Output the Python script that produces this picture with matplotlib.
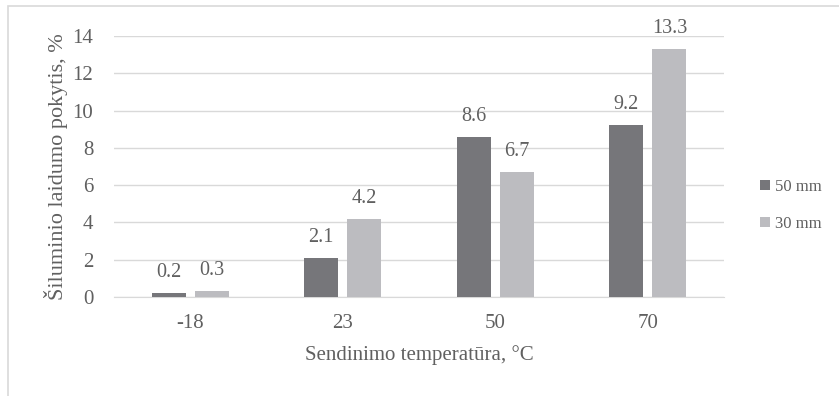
import matplotlib.pyplot as plt
import numpy as np
from matplotlib.patches import Rectangle

categories = ["-18", "23", "50", "70"]
series_names = ["50 mm", "30 mm"]
vals_50mm = [0.2, 2.1, 8.6, 9.2]
vals_30mm = [0.3, 4.2, 6.7, 13.3]
y_ticks = [0, 2, 4, 6, 8, 10, 12, 14]

plt.rcParams["font.family"] = ["Liberation Serif", "DejaVu Serif"]
txt = "#606060"
grid_c = "#d9d9d9"
colors = ["#76767a", "#bcbcc0"]

fig = plt.figure(figsize=(8.39, 3.96), dpi=100)
ax = fig.add_axes([114 / 839, 1 - 297 / 396, 610 / 839, 261 / 396])

# outer chart frame (right/bottom edge cut off in the reference)
fig.patches.append(Rectangle((8 / 839, -0.1), 1.2, 1 - 6 / 396 + 0.1,
                             transform=fig.transFigure, fill=False,
                             edgecolor=grid_c, linewidth=1.2))

x = np.arange(len(categories))
w = 0.223
off = 0.142
for i, (name, vals) in enumerate(zip(series_names, [vals_50mm, vals_30mm])):
    pos = x + (-off if i == 0 else off)
    bars = ax.bar(pos, vals, width=w, color=colors[i], label=name, zorder=3)
    for b, v in zip(bars, vals):
        ax.annotate(f"{v:.1f}", (b.get_x() + b.get_width() / 2, v),
                    xytext=(0, 8), textcoords="offset points",
                    ha="center", va="bottom", fontsize=14.5, color=txt)

ax.set_xlim(-0.5, len(categories) - 0.5)
ax.set_ylim(0, 14)
ax.set_yticks(y_ticks)
ax.set_xticks(x, labels=categories)
ax.yaxis.grid(True, color=grid_c, linewidth=1)
ax.set_axisbelow(True)
for s in ["top", "right", "left"]:
    ax.spines[s].set_visible(False)
ax.spines["bottom"].set_color(grid_c)
ax.tick_params(length=0, labelsize=15, labelcolor=txt)
ax.tick_params(axis="x", pad=12)
ax.tick_params(axis="y", pad=15)

ax.set_xlabel("Sendinimo temperatūra, °C", fontsize=15, color=txt, labelpad=9)
ax.set_ylabel("Šiluminio laidumo pokytis, %", fontsize=16, color=txt, labelpad=3)

leg = ax.legend(loc="center left", bbox_to_anchor=(1.035, 0.352), frameon=False,
                fontsize=12, handlelength=0.55, handleheight=0.55,
                handletextpad=0.3, labelspacing=1.25, labelcolor=txt)

fig.savefig("out.png", dpi=100)
